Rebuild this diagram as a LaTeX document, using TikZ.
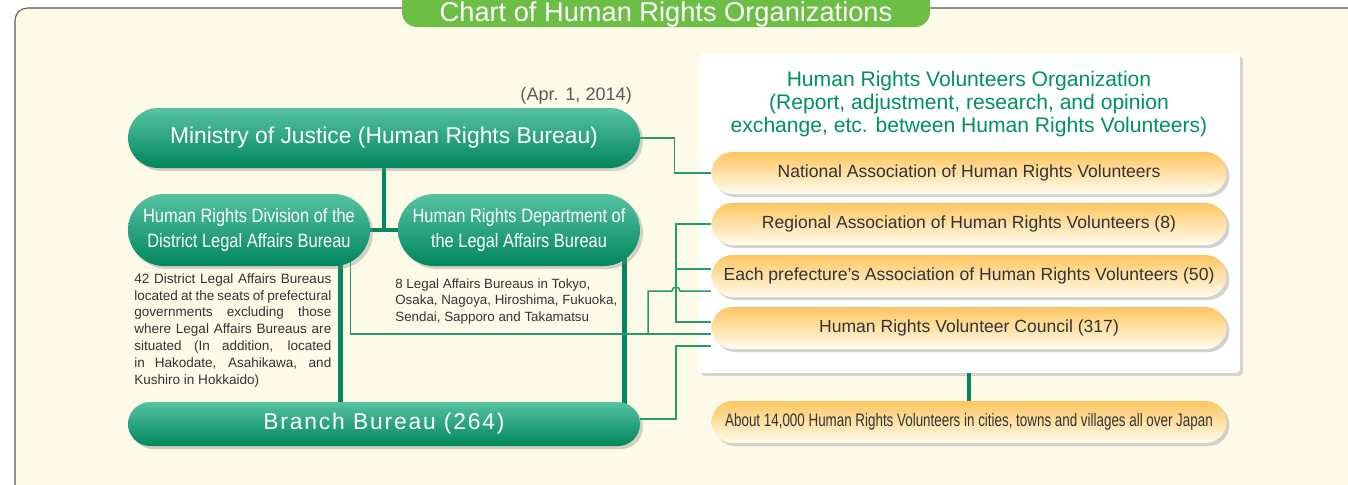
\documentclass[tikz,border=0pt]{standalone}
\usepackage{fontspec}
\setmainfont{Liberation Sans}
\newfontfamily\narrowfont[FakeStretch=0.85]{Liberation Sans}
\newfontfamily\condfont[FakeStretch=0.74]{Liberation Sans}
\usepackage{tikz}
\usetikzlibrary{positioning, calc, shadows, backgrounds}
\definecolor{creambg}{RGB}{254,250,232}
\definecolor{framegray}{RGB}{85,85,85}
\definecolor{titlegreen}{RGB}{109,190,69}
\definecolor{nodetop}{RGB}{86,194,162}
\definecolor{nodebot}{RGB}{0,134,92}
\definecolor{linkgreen}{RGB}{0,137,90}
\definecolor{thingreen}{RGB}{40,155,110}
\definecolor{orangetop}{RGB}{253,198,96}
\definecolor{orangebot}{RGB}{255,252,238}
\definecolor{headgreen}{RGB}{0,146,90}
\definecolor{textgray}{RGB}{51,51,51}
\definecolor{dategray}{RGB}{90,90,90}

\begin{document}
\begin{tikzpicture}[
    x=0.02cm, y=-0.02cm,
    greenbox/.style={rectangle, rounded corners=#1, top color=nodetop, bottom color=nodebot,
                text=white, align=center, inner sep=0pt,
                drop shadow={shadow xshift=0.06cm, shadow yshift=-0.06cm, opacity=0.35}},
    orangebox/.style={rectangle, rounded corners=0.42cm, top color=orangetop, bottom color=orangebot,
                text=textgray, align=center, inner sep=0pt, minimum width=10.3cm, minimum height=0.84cm,
                drop shadow={shadow xshift=0.06cm, shadow yshift=-0.06cm, opacity=0.35}},
    volbox/.style={rectangle, rounded corners=0.08cm, fill=white, draw=none,
                drop shadow={shadow xshift=0.06cm, shadow yshift=-0.06cm, opacity=0.3}},
    note/.style={font=\fontsize{7.7}{9.6}\selectfont, text=textgray, align=justify, inner sep=0pt, anchor=north west},
    mainlink/.style={draw=linkgreen, line width=2.8pt},
    thinlink/.style={draw=thingreen, line width=0.85pt}
]
    \useasboundingbox (0,0) rectangle (1348,484);

    % Title
    \node[text=white, font=\fontsize{15.5}{17}\selectfont] (title) at (666,14) {Chart of Human Rights Organizations};

    % Ministry of Justice
    \node[greenbox=0.6cm, minimum width=10.24cm, minimum height=1.2cm, font=\fontsize{13}{15}\selectfont]
        (ministry) at (384,138) {Ministry of Justice (Human Rights Bureau)};
    \node[anchor=east, text=dategray, font=\fontsize{10.3}{12}\selectfont] (date) at (638,96) {(Apr. 1, 2014)};

    % Division / Department
    \node[greenbox=0.72cm, minimum width=4.84cm, minimum height=1.44cm, font=\narrowfont\fontsize{11}{14}\selectfont]
        (division) at (249,230) {Human Rights Division of the\\District Legal Affairs Bureau};
    \node[greenbox=0.72cm, minimum width=4.84cm, minimum height=1.44cm, font=\narrowfont\fontsize{11}{14}\selectfont]
        (department) at (519,230) {Human Rights Department of\\the Legal Affairs Bureau};

    \node[note, text width=3.94cm] (divnote) at (134,273) {42 District Legal Affairs Bureaus\linebreak
        located at the seats of prefectural\linebreak governments excluding those\linebreak
        where Legal Affairs Bureaus are\linebreak situated (In addition, located\linebreak
        in Hakodate, Asahikawa, and\linebreak Kushiro in Hokkaido)};
    \node[note, align=left, font=\fontsize{7.6}{9.6}\selectfont] (depnote) at (395,278) {8 Legal Affairs Bureaus in Tokyo,\\
        Osaka, Nagoya, Hiroshima, Fukuoka,\\Sendai, Sapporo and Takamatsu};

    % Branch Bureau
    \node[greenbox=0.44cm, minimum width=10.24cm, minimum height=0.88cm,
          font=\fontsize{13}{15}\selectfont\addfontfeature{LetterSpace=8}]
        (branch) at (384,424) {Branch Bureau (264)};

    % Volunteers organization
    \node[text=headgreen, align=center, font=\fontsize{12}{13.3}\selectfont] (heading) at (969,104)
        {Human Rights Volunteers Organization\\(Report, adjustment, research, and opinion\\exchange, etc. between Human Rights Volunteers)};
    \node[orangebox, font=\fontsize{10}{12}\selectfont] (national) at (969,173) {National Association of Human Rights Volunteers};
    \node[orangebox, font=\fontsize{10}{12}\selectfont] (regional) at (969,224) {Regional Association of Human Rights Volunteers (8)};
    \node[orangebox, font=\fontsize{10}{12}\selectfont] (each) at (969,276) {Each prefecture's Association of Human Rights Volunteers (50)};
    \node[orangebox, font=\fontsize{10}{12}\selectfont] (council) at (969,328) {Human Rights Volunteer Council (317)};
    \node[orangebox, font=\condfont\fontsize{10.3}{12}\selectfont] (about) at (969,422)
        {About 14,000 Human Rights Volunteers in cities, towns and villages all over Japan};

    % Helper points for the thin links
    \coordinate (bus) at (676,0);
    \coordinate (tap) at (648,0);
    \coordinate (eTop) at ([yshift=0.14cm]each.west);
    \coordinate (eLow) at ([yshift=-0.3cm]each.west);
    \coordinate (cTop) at ([yshift=0.12cm]council.west);
    \coordinate (cMid) at ([yshift=-0.12cm]council.west);
    \coordinate (cBot) at ([yshift=-0.36cm]council.west);
    \coordinate (bLink) at ([yshift=0.1cm]branch.east);
    \coordinate (divLeg) at ([xshift=-0.6cm]division.east);
    \coordinate (divTap) at ([xshift=-0.4cm]division.east);
    \coordinate (depLeg) at ([xshift=-0.32cm]department.east);

    \begin{pgfonlayer}{background}
        % Frame and title tab
        \draw[framegray, fill=creambg, line width=0.6pt, rounded corners=0.25cm] (15,8) rectangle (1400,540);
        \fill[titlegreen, rounded corners=0.3cm] (402,-14) rectangle (930,27);
        \node[volbox, minimum width=10.84cm, minimum height=6.4cm] (volbox) at (969,213) {};

        % Thick links
        \draw[mainlink] (ministry.center) -- (ministry.center |- division.center);
        \draw[mainlink] (division.center) -- (department.center);
        \draw[mainlink] (divLeg) -- (divLeg |- branch.center);
        \draw[mainlink] (depLeg) -- (depLeg |- branch.center);
        \draw[mainlink] (volbox.south) -- (about.north);

        % Thin links
        \draw[thinlink] (ministry.east) -- ++(34,0) |- (national.west);
        \draw[thinlink] (regional.west) -| (cTop -| bus) -- (cTop);
        \draw[thinlink] (eTop) -- (eTop -| bus);
        \draw[thinlink] (divTap) |- (cMid);
        \draw[thinlink] (cMid -| tap) -- (eLow -| tap) -- ($(eLow -| bus)+(-4,0)$)
            arc[start angle=180, end angle=0, radius=0.08cm] -- (eLow);
        \draw[thinlink] (bLink) -| (bus |- cBot) -- (cBot);
    \end{pgfonlayer}
\end{tikzpicture}
\end{document}
